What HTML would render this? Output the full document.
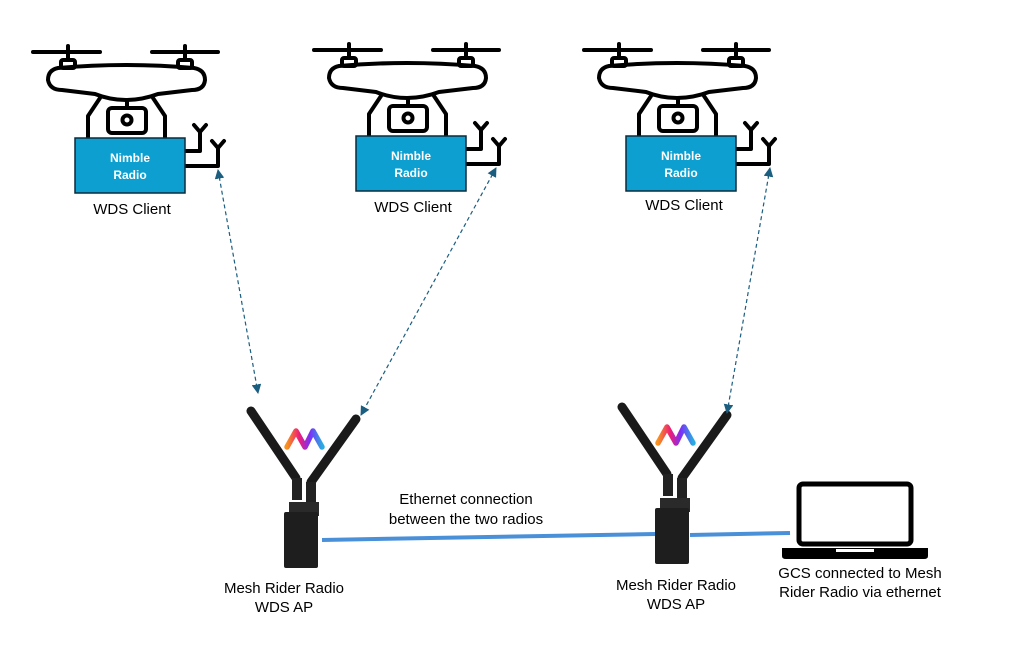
<!DOCTYPE html>
<html><head><style>body{margin:0;background:#fff}svg{display:block}text{font-family:"Liberation Sans",sans-serif}</style></head><body>
<svg width="1009" height="649" viewBox="0 0 1009 649" xmlns="http://www.w3.org/2000/svg">
<defs>
<g id="drone">
<g stroke="#000" stroke-width="4" fill="none" stroke-linecap="round" stroke-linejoin="round">
<line x1="33" y1="52" x2="100" y2="52"/><line x1="152" y1="52" x2="218" y2="52"/>
<line x1="68" y1="46" x2="68" y2="60"/><line x1="185" y1="46" x2="185" y2="60"/>
<rect x="61" y="60" width="14" height="8" rx="2"/><rect x="178" y="60" width="14" height="8" rx="2"/>
<path d="M58 68 Q48 70 48 80 Q50 90 62 90 L95 94 Q110 100 126 100 Q142 100 158 94 L192 90 Q204 90 205 80 Q205 70 194 68 Q126 62 58 68 Z"/>
<path d="M100 98 L88 116 L88 138"/><path d="M153 98 L165 116 L165 138"/>
<rect x="108" y="108" width="38" height="25" rx="4"/>
<circle cx="127" cy="120" r="4.5"/><line x1="127" y1="100" x2="127" y2="108"/>
<path d="M185 151 L200 151 L200 132 M194 125 L200 132 L206 125"/>
<path d="M185 166 L218 166 L218 148 M212 141 L218 148 L224 141"/>
</g>
<rect x="75" y="138" width="110" height="55" fill="#0c9fd0" stroke="#0b2a3c" stroke-width="1.5"/>
<text x="130" y="162" font-size="12" font-weight="bold" fill="#fff" text-anchor="middle">Nimble</text>
<text x="130" y="179" font-size="12" font-weight="bold" fill="#fff" text-anchor="middle">Radio</text>
</g>
<linearGradient id="mg" x1="0" x2="1"><stop offset="0" stop-color="#f7931e"/><stop offset=".35" stop-color="#ed1e79"/><stop offset=".65" stop-color="#7b2ff7"/><stop offset="1" stop-color="#29abe2"/></linearGradient>
<g id="radio">
<g stroke="#1a1a1a" stroke-width="9" stroke-linecap="round"><line x1="251" y1="411" x2="296" y2="478"/><line x1="356" y1="419" x2="311" y2="482"/></g>
<rect x="292" y="478" width="10" height="22" fill="#222"/><rect x="306" y="482" width="10" height="20" fill="#222"/>
<rect x="289" y="502" width="30" height="14" fill="#2a2a2a"/>
<rect x="284" y="512" width="34" height="56" rx="2" fill="#1e1e1e"/>
<path d="M287 447 L296 431 L305 447 L313 431 L322 447" stroke="url(#mg)" stroke-width="5.5" fill="none" stroke-linecap="round" stroke-linejoin="round"/>
</g>
<marker id="ah" viewBox="0 0 10 10" refX="9" refY="5" markerWidth="8" markerHeight="8" orient="auto-start-reverse"><path d="M0 0 L10 5 L0 10 Z" fill="#1b5e80"/></marker>
</defs>
<use href="#drone"/>
<use href="#drone" transform="translate(281,-2)"/>
<use href="#drone" transform="translate(551,-2)"/>
<g font-size="15" fill="#000" text-anchor="middle">
<text x="132" y="214">WDS Client</text><text x="413" y="212">WDS Client</text><text x="684" y="210">WDS Client</text>
<text x="284" y="593">Mesh Rider Radio</text><text x="284" y="612">WDS AP</text>
<text x="676" y="590">Mesh Rider Radio</text><text x="676" y="609">WDS AP</text>
<text x="860" y="578">GCS connected to Mesh</text><text x="860" y="597">Rider Radio via ethernet</text>
<text x="466" y="504">Ethernet connection</text><text x="466" y="524">between the two radios</text>
</g>
<use href="#radio"/>
<use href="#radio" transform="translate(371,-4)"/>
<g stroke="#4a90d9" stroke-width="4"><line x1="322" y1="540" x2="655" y2="534"/><line x1="690" y1="535" x2="790" y2="533"/></g>
<g stroke="#1b5e80" stroke-width="1.2" stroke-dasharray="4,3" fill="none" marker-start="url(#ah)" marker-end="url(#ah)">
<line x1="218" y1="170" x2="258" y2="393"/><line x1="496" y1="168" x2="361" y2="415"/><line x1="770" y1="168" x2="727" y2="413"/>
</g>
<rect x="799" y="484" width="112" height="60" rx="4" fill="none" stroke="#000" stroke-width="5"/>
<path d="M782 548 L928 548 L928 556 Q928 559 924 559 L786 559 Q782 559 782 556 Z" fill="#000"/>
<rect x="836" y="549" width="38" height="3" fill="#fff"/>
</svg>
</body></html>
